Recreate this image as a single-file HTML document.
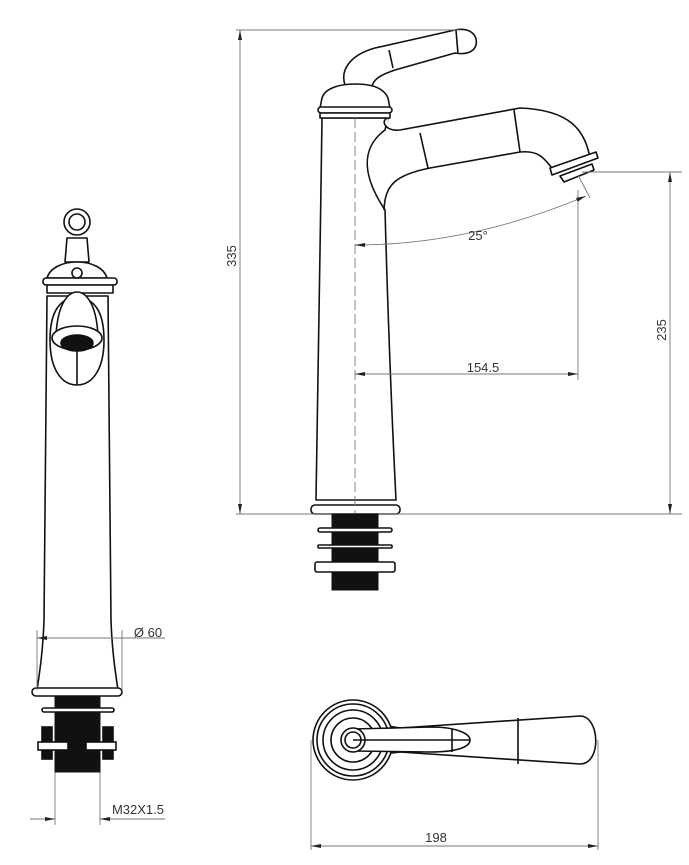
<!DOCTYPE html>
<html><head><meta charset="utf-8"><style>
html,body{margin:0;padding:0;background:#fff;}
svg{display:block;}
text{font-family:"Liberation Sans",sans-serif;fill:#333;}
</style></head><body>
<svg width="689" height="865" viewBox="0 0 689 865" xmlns="http://www.w3.org/2000/svg">
<defs>
<marker id="a" markerWidth="10" markerHeight="6" refX="10" refY="3" orient="auto" markerUnits="userSpaceOnUse"><path d="M0,1 L10,3 L0,5 Z" fill="#222"/></marker>
<marker id="b" markerWidth="10" markerHeight="6" refX="0" refY="3" orient="auto" markerUnits="userSpaceOnUse"><path d="M10,1 L0,3 L10,5 Z" fill="#222"/></marker>
</defs>
<g fill="#fff" stroke="#111" stroke-width="1.6" stroke-linejoin="round">
<path d="M345,85 C340,70 350,55 375,48 L455,30 C470,27 478,35 476,45 C474,52 466,55 455,53 L395,70 C380,75 372,80 372,88 Z"/>
<line x1="389" y1="50" x2="393" y2="68"/><line x1="456" y1="30" x2="458" y2="54"/>
<path d="M322,118 C320,250 318,400 316,500 L396,500 C392,420 388,320 385,210 C365,180 358,150 385,130 L388,118 Z"/>
<path d="M384,210 C385,185 395,175 430,168 L520,152 C540,150 545,160 552,168 L590,158 C585,130 570,110 520,108 L400,130 C385,132 380,120 388,118"/>
<line x1="420" y1="133" x2="428" y2="168"/><line x1="514" y1="110" x2="520" y2="152"/>
<path d="M550,168 L596,152 L598,158 L552,175 Z"/>
<path d="M560,176 L592,164 L594,170 L564,182 Z"/>
<path d="M322,98 C325,88 340,84 355,84 C372,84 384,88 388,98 L390,108 L320,108 Z"/>
<rect x="318" y="107" width="74" height="6" rx="3"/>
<rect x="320" y="113" width="70" height="5"/>
<rect x="311" y="505" width="89" height="9" rx="4"/>
<path d="M47,296 C46,450 45,560 44,620 C43,650 40,670 37,690 L118,690 C115,670 112,650 111,620 C110,560 109,450 108,296 Z"/>
<path d="M65,262 L67,238 L87,238 L89,262 Z"/>
<circle cx="77" cy="222" r="13"/><circle cx="77" cy="222" r="8"/>
<path d="M47,278 C50,268 62,262 77,262 C92,262 104,268 107,278 Z"/>
<rect x="43" y="278" width="74" height="7" rx="3"/>
<rect x="47" y="285" width="66" height="8"/>
<circle cx="77" cy="273" r="5"/>
<path d="M50,340 C50,310 60,300 77,295 C94,300 104,310 104,340 C104,370 92,385 77,385 C62,385 50,370 50,340 Z"/>
<line x1="77" y1="350" x2="77" y2="385"/>
<path d="M56,335 C58,300 70,292 77,292 C84,292 96,300 98,335 Z"/>
<ellipse cx="77" cy="338" rx="25" ry="12"/>
<ellipse cx="77" cy="343" rx="16" ry="8" fill="#111"/>
<rect x="32" y="688" width="90" height="8" rx="4"/>
<path d="M353,720 L400,728 L580,716 C600,716 602,764 580,764 L400,752 L353,758 Z"/>
<circle cx="353" cy="740" r="40"/><circle cx="353" cy="740" r="36"/>
<circle cx="353" cy="740" r="30"/><circle cx="353" cy="740" r="22"/>
<path d="M353,729 L430,727 C460,727 470,735 470,740 C470,746 460,752 430,752 L353,751 Z"/>
<circle cx="353" cy="740" r="12"/><circle cx="353" cy="740" r="8"/>
<line x1="353" y1="740" x2="470" y2="740"/>
<line x1="452" y1="729" x2="452" y2="752"/>
<line x1="518" y1="718" x2="518" y2="764"/>
</g>
<g fill="none" stroke="#777" stroke-width="0.9">
<line x1="236" y1="30" x2="460" y2="30"/>
<line x1="236" y1="514" x2="682" y2="514"/>
<line x1="240" y1="30" x2="240" y2="514" marker-start="url(#b)" marker-end="url(#a)"/>
<line x1="582" y1="172" x2="682" y2="172"/>
<line x1="670" y1="172" x2="670" y2="514" marker-start="url(#b)" marker-end="url(#a)"/>
<line x1="355" y1="118" x2="355" y2="514" stroke-dasharray="10,4"/>
<line x1="578" y1="190" x2="578" y2="380"/>
<line x1="355" y1="374" x2="578" y2="374" marker-start="url(#b)" marker-end="url(#a)"/>
<path d="M355,245 Q470,245 586,196" marker-start="url(#b)" marker-end="url(#a)"/>
<line x1="578" y1="175" x2="590" y2="198"/>
<line x1="37" y1="630" x2="37" y2="690"/>
<line x1="122" y1="630" x2="122" y2="690"/>
<line x1="37" y1="638" x2="165" y2="638" marker-start="url(#b)"/>
<line x1="55" y1="770" x2="55" y2="825"/>
<line x1="100" y1="770" x2="100" y2="825"/>
<line x1="30" y1="819" x2="55" y2="819" marker-end="url(#a)"/>
<line x1="100" y1="819" x2="165" y2="819" marker-start="url(#b)"/>
<line x1="311" y1="740" x2="311" y2="850"/>
<line x1="598" y1="740" x2="598" y2="850"/>
<line x1="311" y1="846" x2="598" y2="846" marker-start="url(#b)" marker-end="url(#a)"/>
</g>
<g fill="#111" stroke="#111">
<rect x="332" y="514" width="46" height="76"/>
<rect x="55" y="696" width="45" height="76"/>
</g>
<g fill="#fff" stroke="#111" stroke-width="1.6">
<rect x="318" y="528" width="74" height="4" rx="2"/>
<rect x="318" y="545" width="74" height="3" rx="1"/>
<rect x="315" y="562" width="80" height="10" rx="2"/>
<rect x="42" y="708" width="72" height="4" rx="2"/>
<rect x="42" y="727" width="10" height="32" fill="#111"/>
<rect x="103" y="727" width="10" height="32" fill="#111"/>
<rect x="38" y="742" width="30" height="8"/>
<rect x="86" y="742" width="30" height="8"/>
</g>
<text x="483" y="372" font-size="13" text-anchor="middle">154.5</text>
<text x="478" y="240" font-size="13" text-anchor="middle">25°</text>
<text x="436" y="842" font-size="13" text-anchor="middle">198</text>
<text x="148" y="637" font-size="13" text-anchor="middle">Ø 60</text>
<text x="138" y="814" font-size="13" text-anchor="middle">M32X1.5</text>
<text transform="translate(236,256) rotate(-90)" font-size="13" text-anchor="middle">335</text>
<text transform="translate(666,330) rotate(-90)" font-size="13" text-anchor="middle">235</text>
</svg>
</body></html>
